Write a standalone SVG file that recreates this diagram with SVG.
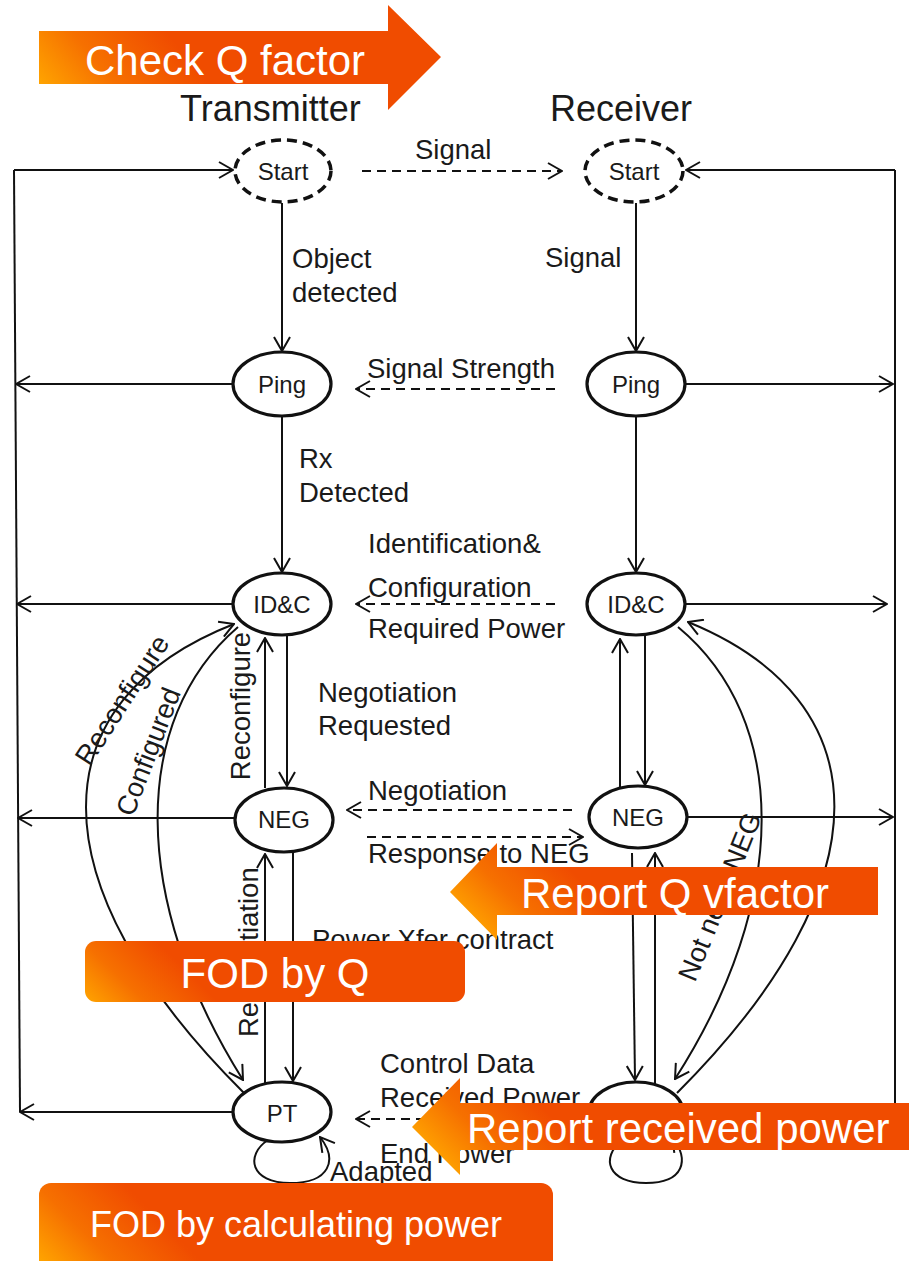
<svg xmlns="http://www.w3.org/2000/svg" width="909" height="1261" viewBox="0 0 909 1261">
  <style>
    .ln { stroke: #111; stroke-width: 2; fill: none; }
    .dash { stroke-dasharray: 9 6; }
    .node { fill: #fff; stroke: #111; stroke-width: 3.2; }
    .node.start { stroke-dasharray: 10 6; stroke-width: 3.5; }
    text { font-family: "Liberation Sans", Arial, sans-serif; fill: #1a1a1a; }
    .lbl { font-size: 27.5px; }
    .nl { font-size: 24px; text-anchor: middle; }
    .hd { font-size: 36px; }
    .ot { fill: #fff; font-size: 42px; }
  </style>
  <defs>
    <marker id="ah" viewBox="0 0 16 18" refX="15" refY="9" markerWidth="16" markerHeight="18" markerUnits="userSpaceOnUse" orient="auto">
      <path d="M1,1 L15,9 L1,17" fill="none" stroke="#111" stroke-width="2"/>
    </marker>
    <linearGradient id="ogBase">
      <stop offset="0" stop-color="#FFA400"/>
      <stop offset="0.45" stop-color="#F67000"/>
      <stop offset="1" stop-color="#F04C00"/>
    </linearGradient>
    <linearGradient id="gCheck" href="#ogBase" gradientUnits="userSpaceOnUse" x1="39" y1="84" x2="140" y2="0"/>
    <linearGradient id="gRepQ" href="#ogBase" gradientUnits="userSpaceOnUse" x1="485" y1="940" x2="560" y2="860"/>
    <linearGradient id="gFodQ" href="#ogBase" gradientUnits="userSpaceOnUse" x1="85" y1="1002" x2="150" y2="935"/>
    <linearGradient id="gRepP" href="#ogBase" gradientUnits="userSpaceOnUse" x1="450" y1="1175" x2="530" y2="1095"/>
    <linearGradient id="gFodP" href="#ogBase" gradientUnits="userSpaceOnUse" x1="39" y1="1261" x2="120" y2="1180"/>
  </defs>

  <rect width="909" height="1261" fill="#fff"/>

  <!-- column headings -->
  <text class="hd" x="180" y="121">Transmitter</text>
  <text class="hd" x="550" y="121">Receiver</text>

  <!-- transitions -->
  <g id="connectors">
    <!-- outer return loops -->
    <path class="ln" d="M14,170 L20,1112"/>
    <path class="ln" d="M14,170 H233" marker-end="url(#ah)"/>
    <path class="ln" d="M233,384 H16" marker-end="url(#ah)"/>
    <path class="ln" d="M233,604 H17" marker-end="url(#ah)"/>
    <path class="ln" d="M235,818 H18" marker-end="url(#ah)"/>
    <path class="ln" d="M233,1112 H20" marker-end="url(#ah)"/>

    <path class="ln" d="M895,170 V1112"/>
    <path class="ln" d="M895,170 H686" marker-end="url(#ah)"/>
    <path class="ln" d="M685,384 H893" marker-end="url(#ah)"/>
    <path class="ln" d="M685,604 H887" marker-end="url(#ah)"/>
    <path class="ln" d="M687,817 H893" marker-end="url(#ah)"/>

    <!-- transmitter chain -->
    <path class="ln" d="M282,203 V351" marker-end="url(#ah)"/>
    <path class="ln" d="M282,416 V572" marker-end="url(#ah)"/>
    <path class="ln" d="M287,636 V786" marker-end="url(#ah)"/>
    <path class="ln" d="M265,788 V638" marker-end="url(#ah)"/>
    <path class="ln" d="M293,852 V1081" marker-end="url(#ah)"/>
    <path class="ln" d="M265,1084 V854" marker-end="url(#ah)"/>
    <path class="ln" d="M244,1093 C30,880 40,700 234,624" marker-end="url(#ah)"/>
    <path class="ln" d="M238,627 C130,720 130,900 243,1080" marker-end="url(#ah)"/>
    <path class="ln" d="M268,1140 C245,1155 250,1183 290,1183 C330,1183 338,1160 320,1137" marker-end="url(#ah)"/>

    <!-- receiver chain -->
    <path class="ln" d="M636,203 V351" marker-end="url(#ah)"/>
    <path class="ln" d="M636,416 V572" marker-end="url(#ah)"/>
    <path class="ln" d="M645,635 V785" marker-end="url(#ah)"/>
    <path class="ln" d="M620,787 V639" marker-end="url(#ah)"/>
    <path class="ln" d="M632,853 L635,1080" marker-end="url(#ah)"/>
    <path class="ln" d="M655,1084 V853" marker-end="url(#ah)"/>
    <path class="ln" d="M678,627 C790,720 790,900 675,1079" marker-end="url(#ah)"/>
    <path class="ln" d="M677,1093 C890,880 880,700 688,622" marker-end="url(#ah)"/>
    <path class="ln" d="M622,1140 C600,1158 608,1183 646,1183 C684,1183 690,1160 672,1137" marker-end="url(#ah)"/>

    <!-- messages between the two sides -->
    <path class="ln dash" d="M362,171 H562" marker-end="url(#ah)"/>
    <path class="ln dash" d="M555,389 H356" marker-end="url(#ah)"/>
    <path class="ln dash" d="M555,604 H356" marker-end="url(#ah)"/>
    <path class="ln dash" d="M572,810 H347" marker-end="url(#ah)"/>
    <path class="ln dash" d="M367,837 H583" marker-end="url(#ah)"/>
    <path class="ln dash" d="M425,1119 H356" marker-end="url(#ah)"/>
  </g>

  <!-- transmitter states -->
  <g id="tx-start"><ellipse class="node start" cx="283" cy="171" rx="48" ry="31"/><text class="nl" x="283" y="180">Start</text></g>
  <g id="tx-ping"><ellipse class="node" cx="282" cy="384" rx="49" ry="32"/><text class="nl" x="282" y="393">Ping</text></g>
  <g id="tx-idc"><ellipse class="node" cx="282" cy="604" rx="49" ry="31"/><text class="nl" x="282" y="613">ID&amp;C</text></g>
  <g id="tx-neg"><ellipse class="node" cx="284" cy="820" rx="49" ry="32"/><text class="nl" x="284" y="828">NEG</text></g>
  <g id="tx-pt"><ellipse class="node" cx="282" cy="1112" rx="49" ry="30"/><text class="nl" x="282" y="1122">PT</text></g>

  <!-- receiver states -->
  <g id="rx-start"><ellipse class="node start" cx="634" cy="171" rx="49" ry="31"/><text class="nl" x="634" y="180">Start</text></g>
  <g id="rx-ping"><ellipse class="node" cx="636" cy="384" rx="49" ry="32"/><text class="nl" x="636" y="393">Ping</text></g>
  <g id="rx-idc"><ellipse class="node" cx="636" cy="604" rx="49" ry="31"/><text class="nl" x="636" y="613">ID&amp;C</text></g>
  <g id="rx-neg"><ellipse class="node" cx="638" cy="817" rx="49" ry="31"/><text class="nl" x="638" y="826">NEG</text></g>
  <g id="rx-pt"><ellipse class="node" cx="636" cy="1112" rx="47" ry="30"/></g>

  <!-- transition labels -->
  <g id="labels" class="lbl">
    <text x="415" y="159">Signal</text>
    <text x="292" y="268">Object</text>
    <text x="292" y="302">detected</text>
    <text x="545" y="267">Signal</text>
    <text x="367" y="378">Signal Strength</text>
    <text x="299" y="468">Rx</text>
    <text x="299" y="502">Detected</text>
    <text x="368" y="553">Identification&amp;</text>
    <text x="368" y="597">Configuration</text>
    <text x="368" y="638">Required Power</text>
    <text x="318" y="702">Negotiation</text>
    <text x="318" y="735">Requested</text>
    <text x="368" y="800">Negotiation</text>
    <text x="368" y="863">Response to NEG</text>
    <text x="312" y="949">Power Xfer contract</text>
    <text x="380" y="1073">Control Data</text>
    <text x="380" y="1107">Received Power</text>
    <text x="380" y="1163">End Power</text>
    <text x="330" y="1181">Adapted</text>
    <text transform="translate(130,705) rotate(-57)" text-anchor="middle">Reconfigure</text>
    <text transform="translate(157,755) rotate(-69)" text-anchor="middle">Configured</text>
    <text transform="translate(250,706) rotate(-90)" text-anchor="middle">Reconfigure</text>
    <text transform="translate(258,1037) rotate(-90)">Renegotiation</text>
    <text transform="translate(695,983) rotate(-68)">Not need NEG</text>
  </g>

  <!-- highlighted callouts -->
  <g id="check-q">
    <polygon points="39,31 388,31 388,5 441,57 388,110 388,84 39,84" fill="url(#gCheck)"/>
    <text class="ot" x="85" y="75">Check Q factor</text>
  </g>
  <g id="report-q">
    <polygon points="878,867 497,867 497,843 450,892 497,940 497,915 878,915" fill="url(#gRepQ)"/>
    <text class="ot" x="521" y="908">Report Q vfactor</text>
  </g>
  <g id="fod-q">
    <rect x="85" y="941" width="380" height="61" rx="11" fill="url(#gFodQ)"/>
    <text class="ot" x="275" y="988" text-anchor="middle">FOD by Q</text>
  </g>
  <g id="report-power">
    <polygon points="909,1103 460,1103 460,1078 412,1127 460,1175 460,1150 909,1150" fill="url(#gRepP)"/>
    <text class="ot" x="467" y="1143">Report received power</text>
  </g>
  <g id="fod-power">
    <rect x="39" y="1183" width="514" height="92" rx="12" fill="url(#gFodP)"/>
    <text class="ot" x="296" y="1237" text-anchor="middle" style="font-size:36px">FOD by calculating power</text>
  </g>
</svg>
